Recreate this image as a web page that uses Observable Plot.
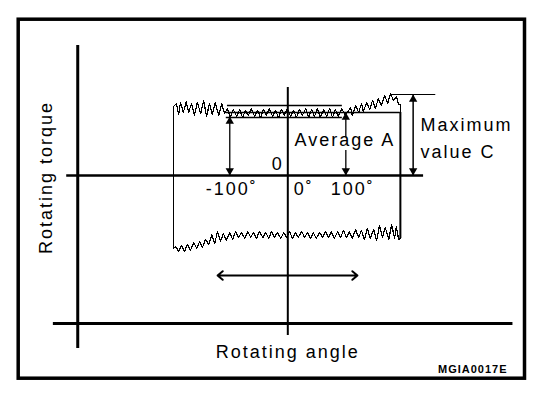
<!DOCTYPE html>
<html>
<head>
<meta charset="utf-8">
<script src="https://cdn.jsdelivr.net/npm/d3@7"></script>
<script src="https://cdn.jsdelivr.net/npm/@observablehq/plot@0.6"></script>
<style>
  html, body { margin: 0; padding: 0; background: #fff; }
  #chart svg { display: block; }
</style>
</head>
<body>
<div id="chart"></div>
<script>
// Rotating torque trace (hysteresis loop) — angle in degrees, torque in arbitrary units
// Upper trace, left to right
const upperAngle = [-197,-192,-188,-185,-180,-175,-171,-166,-161,-156,-150,-145,-140,-135,-130,-125,-119,-114,-109,-104,
  -99,-94,-88,-83,-78,-73,-68,-63,-57,-52,-47,-42,-37,-32,-26,-21,-16,-11,-6,-1,5,10,15,20,25,31,36,41,46,51,56,62,67,72,77,82,87,93,98,
  103,108,111,117,122,127,130,136,141,146,151,156,161,167,172,177,182,187,191,194];
const upperTorque = [69,72,61,73,63,74,63,72,60,73,62,75,59,72,61,73,60,72,62,67,
  58,66,59,66,58,65,60,67,59,65,58,66,60,67,59,65,58,66,60,67,59,65,58,66,60,67,58,66,59,67,58,66,59,67,58,66,59,67,61,
  63,68,60,70,63,72,64,73,66,75,67,77,70,80,72,82,75,79,71,71];
// Lower trace, right to left
const lowerAngle = [194,191,187,184,179,174,168,163,158,153,148,142,137,132,127,122,117,111,106,101,
  96,91,86,80,75,70,65,60,55,49,44,39,34,29,24,18,13,8,3,-2,
  -7,-12,-18,-23,-28,-33,-38,-43,-49,-54,-59,-64,-69,-74,-80,-85,-90,-95,-100,-106,
  -111,-116,-121,-126,-131,-136,-142,-147,-152,-157,-162,-168,-173,-178,-183,-188,-193,-197];
const lowerTorque = [-63,-64,-51,-63,-49,-64,-52,-62,-50,-65,-54,-63,-53,-64,-55,-62,-54,-63,-56,-62,
  -55,-62,-56,-63,-56,-62,-56,-62,-57,-63,-57,-63,-57,-62,-56,-62,-57,-63,-56,-62,
  -57,-63,-57,-62,-56,-63,-57,-62,-56,-63,-57,-62,-56,-63,-57,-62,-56,-64,-57,-65,
  -58,-66,-56,-68,-59,-69,-64,-72,-66,-73,-67,-75,-69,-76,-70,-76,-71,-73];

const averageA = 63;     // average torque level
const maximumC = 81;     // maximum torque value
const bandTop = 70;
const bandBottom = 58;
const sweepAngle = [-121, 120];           // rotating range (double arrow)
const tickAngles = [-100, 0, 100];
const tickLabels = ["-100˚", "0˚", "100˚"];
const zeroLabel = "0";
const xTitle = "Rotating angle";
const yTitle = "Rotating torque";
const maxLabel = ["Maximum", "value C"];
const avgLabel = "Average A";
const code = "MGIA0017E";

const loop = [];
upperAngle.forEach((a, i) => loop.push({angle: a, torque: upperTorque[i]}));
lowerAngle.forEach((a, i) => loop.push({angle: a, torque: lowerTorque[i]}));
loop.push(loop[0]);

const font = "'Liberation Sans', Arial, Helvetica, sans-serif";
const txt = {fontFamily: font, fontSize: 18, fill: "black"};
const R = 3.1, tipOff = 1.555 * R;
const up = (x, y) => Plot.dot([0], {x: () => x, y: () => y, symbol: "triangle", r: R, fill: "black", stroke: "none", dy: tipOff});
const down = (x, y) => Plot.dot([0], {x: () => x, y: () => y, symbol: "triangle", r: R, fill: "black", stroke: "none", rotate: 180, dy: -tipOff});

const tickDx = [-24, 6, -15];

const chart = Plot.plot({
  width: 560, height: 394,
  marginLeft: 17.7, marginRight: 36, marginTop: 18.7, marginBottom: 16.3,
  x: {domain: [-464.6, 407.9], axis: null},
  y: {domain: [-202.7, 156.3], axis: null},
  style: {background: "white", letterSpacing: "2px"},
  marks: [
    Plot.frame({stroke: "black", strokeWidth: 3.5}),
    // diagram axes
    Plot.ruleX([-362], {y1: -173, y2: 130, stroke: "black", strokeWidth: 3}),
    Plot.ruleY([-148], {x1: -404, x2: 388, stroke: "black", strokeWidth: 3}),
    Plot.ruleX([0], {y1: -160, y2: 88, stroke: "black", strokeWidth: 2}),
    Plot.ruleY([0], {x1: -381, x2: 234, stroke: "black", strokeWidth: 2.5}),
    // torque trace
    Plot.line(loop, {x: "angle", y: "torque", stroke: "black", strokeWidth: 1.2, shapeRendering: "crispEdges"}),
    Plot.ruleX([upperAngle[upperAngle.length - 1]], {y1: lowerTorque[0], y2: averageA, stroke: "black", strokeWidth: 2}),
    // reference levels
    Plot.ruleY([bandTop], {x1: -104, x2: 94, stroke: "black", strokeWidth: 1.3}),
    Plot.ruleY([bandBottom], {x1: -106, x2: 94, stroke: "black", strokeWidth: 1.3}),
    Plot.ruleY([averageA], {x1: -106, x2: 194, stroke: "black", strokeWidth: 1.5}),
    Plot.ruleY([maximumC], {x1: 177, x2: 255, stroke: "black", strokeWidth: 1}),
    // dimension arrows
    Plot.ruleX([tickAngles[0]], {y1: 0, y2: bandBottom, stroke: "black", strokeWidth: 1.3}),
    up(tickAngles[0], bandBottom + 1), down(tickAngles[0], 0),
    Plot.ruleX([tickAngles[2]], {y1: 38, y2: averageA, stroke: "black", strokeWidth: 1.3}),
    Plot.ruleX([tickAngles[2]], {y1: 0, y2: 25, stroke: "black", strokeWidth: 1.3}),
    up(tickAngles[2], averageA), down(tickAngles[2], 0),
    Plot.ruleX([216], {y1: 0, y2: maximumC, stroke: "black", strokeWidth: 1.5}),
    up(216, maximumC), down(216, 0),
    // rotating range arrow
    Plot.arrow(sweepAngle, {x1: 0, x2: d => d, y1: -100, y2: -100, stroke: "black", strokeWidth: 2, headLength: 5, headAngle: 80}),
    // texts
    ...tickAngles.map((a, i) => Plot.text([tickLabels[i]], {x: () => a, y: -14, text: d => d, textAnchor: "start", dx: tickDx[i], ...txt})),
    Plot.text([zeroLabel], {x: 0, y: 11, text: d => d, textAnchor: "start", dx: -16, ...txt}),
    Plot.text([avgLabel], {x: 11.5, y: 35, text: d => d, textAnchor: "start", ...txt}),
    Plot.text([maxLabel[0]], {x: 228.7, y: 50, text: d => d, textAnchor: "start", ...txt}),
    Plot.text([maxLabel[1]], {x: 228.7, y: 23, text: d => d, textAnchor: "start", ...txt}),
    Plot.text([xTitle], {x: 0, y: -177, text: d => d, textAnchor: "middle", ...txt}),
    Plot.text([yTitle], {x: -416, y: -2, text: d => d, textAnchor: "middle", rotate: -90, ...txt}),
    Plot.text([code], {x: 378.6, y: -193.5, text: d => d, textAnchor: "end", fontFamily: font, fontSize: 11, fontWeight: "bold", fill: "black"})
  ]
});
d3.select(chart).selectAll("text").filter(function() { return this.textContent === code; }).style("letter-spacing", "1px");
document.getElementById("chart").appendChild(chart);
</script>
</body>
</html>
